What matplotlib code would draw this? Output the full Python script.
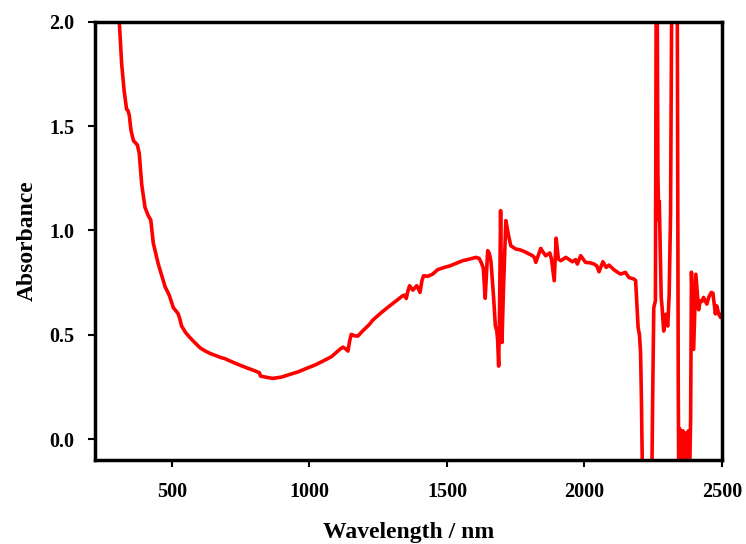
import matplotlib
matplotlib.use("Agg")
import matplotlib.pyplot as plt

# UV-Vis-NIR absorbance spectrum
wavelength = [
    300, 308, 317, 326, 335, 340, 345, 351, 360, 374, 381, 390, 402, 414, 423,
    432, 450, 475, 490, 505, 519, 523, 529, 535, 550, 565, 585, 602, 620, 638,
    660, 680, 692, 712, 735, 771, 800, 813, 818, 822, 845, 867, 900, 928, 960,
    989, 1020, 1049, 1080, 1110, 1122, 1132, 1140, 1146, 1152, 1165, 1176, 1188,
    1200, 1218, 1230, 1260, 1291, 1320, 1339, 1346, 1352, 1358, 1364, 1376, 1390,
    1396, 1402, 1409, 1415, 1430, 1448, 1466, 1490, 1510, 1527, 1557, 1580, 1605,
    1617, 1625, 1632, 1639, 1644, 1648, 1654, 1660, 1669, 1676, 1681, 1684, 1688,
    1691, 1695, 1700, 1705, 1714, 1724, 1732, 1750, 1763, 1774, 1787, 1799, 1811,
    1818, 1823, 1841, 1850, 1859, 1874, 1880, 1890, 1897, 1905, 1914, 1932, 1945,
    1956, 1968, 1974, 1986, 2004, 2020, 2035, 2045, 2053, 2067, 2079, 2089, 2107,
    2120, 2131, 2149, 2161, 2180, 2186, 2195, 2200, 2204, 2207, 2212, 2244, 2248,
    2252, 2258, 2261, 2264, 2267, 2270, 2272, 2276, 2279, 2283, 2288, 2292, 2296,
    2300, 2303, 2308, 2313, 2318, 2337, 2341, 2343, 2346, 2349, 2352, 2355, 2358,
    2362, 2366, 2370, 2374, 2378, 2382, 2386, 2389, 2397, 2405, 2415, 2421, 2427,
    2433, 2440, 2445, 2452, 2461, 2467, 2476, 2481, 2488, 2495, 2500,
]
absorbance = [
    2.20, 2.01, 1.80, 1.67, 1.58, 1.575, 1.55, 1.48, 1.43, 1.41, 1.37, 1.22, 1.11,
    1.07, 1.05, 0.94, 0.84, 0.73, 0.69, 0.63, 0.607, 0.599, 0.574, 0.542, 0.51,
    0.487, 0.46, 0.438, 0.423, 0.411, 0.40, 0.390, 0.386, 0.374, 0.361, 0.342,
    0.328, 0.321, 0.318, 0.302, 0.296, 0.291, 0.298, 0.310, 0.323, 0.339, 0.355,
    0.374, 0.395, 0.430, 0.441, 0.432, 0.422, 0.47, 0.502, 0.495, 0.494, 0.511,
    0.527, 0.550, 0.570, 0.605, 0.638, 0.668, 0.687, 0.69, 0.674, 0.71, 0.735,
    0.714, 0.735, 0.72, 0.703, 0.76, 0.783, 0.780, 0.791, 0.812, 0.823, 0.830,
    0.839, 0.855, 0.862, 0.871, 0.866, 0.845, 0.82, 0.675, 0.80, 0.903, 0.89,
    0.850, 0.69, 0.542, 0.52, 0.478, 0.35, 0.60, 1.095, 0.463, 0.70, 1.047, 0.975,
    0.927, 0.911, 0.908, 0.903, 0.895, 0.887, 0.879, 0.87, 0.847, 0.914, 0.895,
    0.879, 0.892, 0.863, 0.759, 0.963, 0.863, 0.855, 0.871, 0.86, 0.850, 0.860,
    0.839, 0.879, 0.847, 0.845, 0.839, 0.83, 0.802, 0.850, 0.823, 0.834, 0.812,
    0.80, 0.791, 0.799, 0.775, 0.767, 0.760, 0.535, 0.50, 0.414, 0.198, -0.30,
    -0.30, 0.20, 0.63, 0.663, 2.30, 2.30, 1.27, 1.05, 1.14, 0.887, 0.679, 0.62,
    0.518, 0.56, 0.598, 0.55, 0.542, 0.695, 1.08, 2.30, 2.30, 0.27, -0.30, 0.05,
    -0.30, 0.03, -0.30, 0.04, -0.30, 0.03, 0.02, -0.30, 0.04, -0.20, 0.10, 0.80,
    0.43, 0.79, 0.62, 0.663, 0.66, 0.679, 0.66, 0.647, 0.68, 0.703, 0.70, 0.60,
    0.639, 0.60, 0.583, 0.60,
]

x_ticks = [500, 1000, 1500, 2000, 2500]
y_ticks = [0.0, 0.5, 1.0, 1.5, 2.0]

plt.rcParams['font.family'] = ['Liberation Serif', 'DejaVu Serif']
plt.rcParams['font.weight'] = 'bold'

fig = plt.figure(figsize=(7.46, 5.44), dpi=100)
ax = fig.add_axes([0.1273, 0.1544, 0.8405, 0.8056])

ax.plot(wavelength, absorbance, color='#ff0000', lw=2.6, solid_joinstyle='round')

ax.set_xlim(220, 2500)
ax.set_ylim(-0.1, 2.0)
ax.set_xticks(x_ticks)
ax.set_xticklabels([str(t) for t in x_ticks])
ax.set_yticks(y_ticks)
ax.set_yticklabels([f"{t:.1f}" for t in y_ticks])

for s in ax.spines.values():
    s.set_linewidth(2.5)
    s.set_color('black')

ax.tick_params(axis='both', direction='out', length=5, width=1.5,
               labelsize=14.5, pad=10)
ax.tick_params(axis='x', pad=11)
for lab in ax.get_xticklabels() + ax.get_yticklabels():
    lab.set_fontweight('bold')

ax.set_xlabel('Wavelength / nm', fontsize=17, fontweight='bold', labelpad=14)
ax.set_ylabel('Absorbance', fontsize=17, fontweight='bold', labelpad=8)

fig.savefig('out.png', dpi=100)
